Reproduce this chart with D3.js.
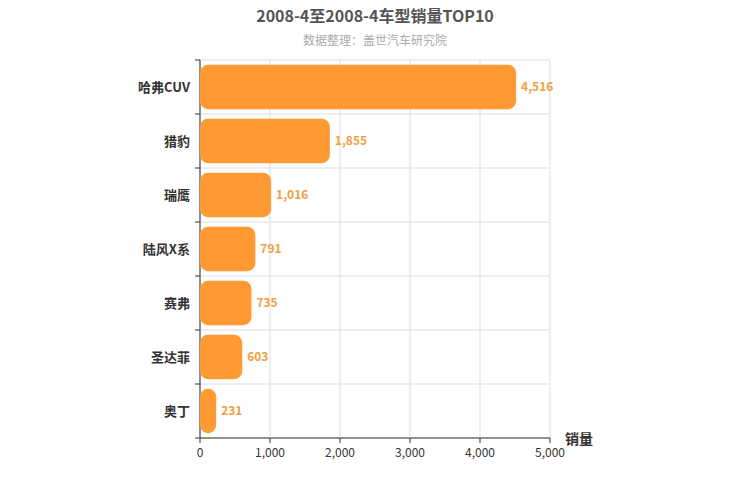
<!DOCTYPE html><html><head><meta charset="utf-8"><script src="https://cdn.jsdelivr.net/npm/d3@7"></script>
<style>body{margin:0;background:#fff}text{font-family:"Noto Sans CJK SC",sans-serif}</style></head><body><svg width="750" height="500"></svg><script>
const categories=["哈弗CUV","猎豹","瑞鹰","陆风X系","赛弗","圣达菲","奥丁"];
const values=[4516,1855,1016,791,735,603,231];
const ticks=[0,1000,2000,3000,4000,5000];
const svg=d3.select("svg");
const x=d3.scaleLinear().domain([0,5000]).range([200,550]);
const y=d3.scaleBand().domain(categories).range([60,438]).paddingInner(0.18).paddingOuter(0.09);
const step=y.step();
ticks.forEach(t=>svg.append("line").attr("x1",x(t)).attr("x2",x(t)).attr("y1",60).attr("y2",438).attr("stroke","#ddd"));
categories.forEach((c,i)=>{const yy=60+step*(i+1);svg.append("line").attr("x1",200).attr("x2",550).attr("y1",yy).attr("y2",yy).attr("stroke","#ddd");});
svg.append("line").attr("x1",200).attr("x2",550).attr("y1",60).attr("y2",60).attr("stroke","#ddd");
svg.append("line").attr("x1",200).attr("x2",200).attr("y1",60).attr("y2",438).attr("stroke","#333");
svg.append("line").attr("x1",200).attr("x2",550).attr("y1",438).attr("y2",438).attr("stroke","#333");
ticks.forEach(t=>{svg.append("line").attr("x1",x(t)).attr("x2",x(t)).attr("y1",438).attr("y2",443).attr("stroke","#333");
svg.append("text").attr("x",x(t)).attr("y",457).attr("text-anchor","middle").attr("font-size",12).attr("fill","#333").text(d3.format(",")(t));});
categories.forEach((c,i)=>{const yy=60+step*(i+1);svg.append("line").attr("x1",195).attr("x2",200).attr("y1",yy).attr("y2",yy).attr("stroke","#333");});
svg.append("line").attr("x1",195).attr("x2",200).attr("y1",60).attr("y2",60).attr("stroke","#333");
categories.forEach((c,i)=>{
svg.append("rect").attr("x",x(0)).attr("y",y(c)).attr("width",x(values[i])-x(0)).attr("height",y.bandwidth()).attr("rx",8).attr("fill","#ff9933");
svg.append("text").attr("x",x(values[i])+5).attr("y",y(c)+y.bandwidth()/2+4).attr("font-size",12).attr("font-weight","bold").attr("fill","#f0a040").text(d3.format(",")(values[i]));
svg.append("text").attr("x",190).attr("y",y(c)+y.bandwidth()/2+5).attr("text-anchor","end").attr("font-size",13).attr("font-weight","bold").attr("fill","#333").text(c);});
svg.append("text").attr("x",375).attr("y",22).attr("text-anchor","middle").attr("font-size",16).attr("font-weight","bold").attr("fill","#555").text("2008-4至2008-4车型销量TOP10");
svg.append("text").attr("x",375).attr("y",45).attr("text-anchor","middle").attr("font-size",12).attr("fill","#aaa").text("数据整理：盖世汽车研究院");
svg.append("text").attr("x",565).attr("y",444).attr("font-size",14).attr("font-weight","bold").attr("fill","#333").text("销量");
</script></body></html>
